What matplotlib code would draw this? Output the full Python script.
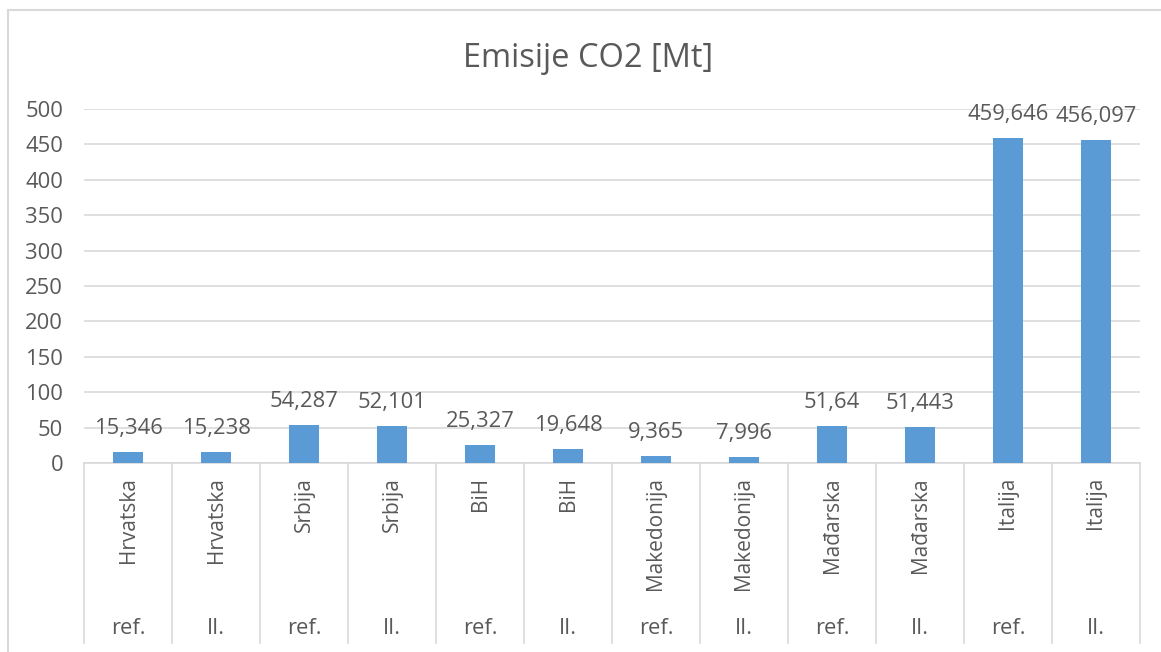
import matplotlib
matplotlib.use("Agg")
import matplotlib.pyplot as plt
from matplotlib.patches import Rectangle

plt.rcParams['font.family'] = ['Open Sans', 'DejaVu Sans']

countries = ["Hrvatska", "Hrvatska", "Srbija", "Srbija", "BiH", "BiH",
             "Makedonija", "Makedonija", "Mađarska", "Mađarska", "Italija", "Italija"]
scenarios = ["ref.", "II.", "ref.", "II.", "ref.", "II.",
             "ref.", "II.", "ref.", "II.", "ref.", "II."]
values = [15.346, 15.238, 54.287, 52.101, 25.327, 19.648,
          9.365, 7.996, 51.64, 51.443, 459.646, 456.097]
yticks = [0, 50, 100, 150, 200, 250, 300, 350, 400, 450, 500]
title = "Emisije CO2 [Mt]"

W, H = 1161, 652
fig = plt.figure(figsize=(W / 100, H / 100), dpi=100)
fig.patch.set_facecolor("white")

# outer chart border
fig.patches.append(Rectangle((8 / W, -0.05), 1.2, 1 - 10 / H + 0.05,
                             transform=fig.transFigure, fill=False,
                             edgecolor="#D9D9D9", linewidth=1.5))

left, right, top, bottom = 84, 1140, 109, 463
ax = fig.add_axes([left / W, 1 - bottom / H, (right - left) / W, (bottom - top) / H])

txt = "#595959"
grid = "#D9D9D9"
fs = 15.8
n = len(values)
x = list(range(n))
ax.bar(x, values, width=0.33, color="#5B9BD5", zorder=3)
ax.set_xlim(-0.5, n - 0.5)
ax.set_ylim(0, 500)
ax.set_yticks(yticks)
ax.set_yticklabels([str(t) for t in yticks], color=txt, fontsize=fs)
ax.tick_params(axis="y", length=0, pad=15)
ax.set_xticks([])
for s in ["top", "right", "left"]:
    ax.spines[s].set_visible(False)
ax.spines["bottom"].set_color(grid)
ax.spines["bottom"].set_linewidth(1.2)
ax.yaxis.grid(True, color=grid, linewidth=1.2, zorder=0)
ax.set_axisbelow(True)

for xi, v in zip(x, values):
    ax.annotate(f"{v:g}".replace(".", ","), (xi, v), xytext=(0, 13),
                textcoords="offset points", ha="center", va="baseline",
                color=txt, fontsize=fs, annotation_clip=False)

tr = ax.get_xaxis_transform()
axh = bottom - top
y_end = (bottom - 643) / axh
for b in range(n + 1):
    ax.plot([b - 0.5, b - 0.5], [0, y_end], color=grid, linewidth=1.2,
            transform=tr, clip_on=False)
for xi, c, s in zip(x, countries, scenarios):
    ax.text(xi, (bottom - 477) / axh, c, rotation=90, ha="center", va="top",
            color=txt, fontsize=15, transform=tr)
    ax.text(xi, (bottom - 628) / axh, s, ha="center", va="center",
            color=txt, fontsize=fs, transform=tr)

fig.text(588 / W, 1 - 67 / H, title, ha="center", va="baseline",
         color=txt, fontsize=23.5)

fig.savefig("out.png", dpi=100)
